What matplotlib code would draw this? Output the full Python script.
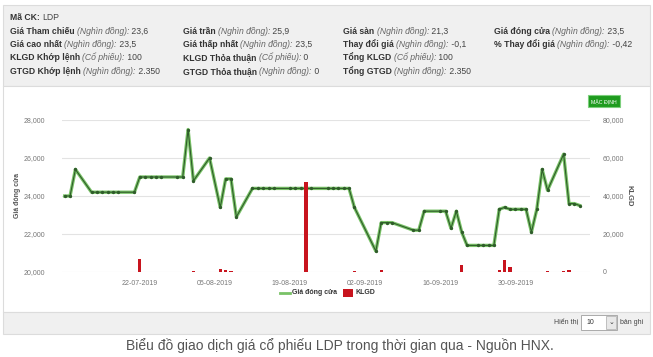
import matplotlib
matplotlib.use("Agg")
import matplotlib.pyplot as plt
import matplotlib.dates as mdates
from matplotlib.patches import Rectangle
from matplotlib import font_manager
import pandas as pd

# --- data ---
close_dates = ["2019-07-08", "2019-07-09", "2019-07-10", "2019-07-13", "2019-07-14", "2019-07-15",
               "2019-07-16", "2019-07-17", "2019-07-18", "2019-07-21", "2019-07-22", "2019-07-23",
               "2019-07-24", "2019-07-25", "2019-07-26", "2019-07-29", "2019-07-30", "2019-07-31",
               "2019-08-01", "2019-08-04", "2019-08-06", "2019-08-07", "2019-08-08", "2019-08-09",
               "2019-08-12", "2019-08-13", "2019-08-14", "2019-08-15", "2019-08-16", "2019-08-19",
               "2019-08-20", "2019-08-21", "2019-08-22", "2019-08-23", "2019-08-26", "2019-08-27",
               "2019-08-28", "2019-08-29", "2019-08-30", "2019-08-31", "2019-09-04", "2019-09-05",
               "2019-09-06", "2019-09-07", "2019-09-11", "2019-09-12", "2019-09-13", "2019-09-16",
               "2019-09-17", "2019-09-18", "2019-09-19", "2019-09-20", "2019-09-21", "2019-09-23",
               "2019-09-24", "2019-09-25", "2019-09-26", "2019-09-27", "2019-09-28", "2019-09-29",
               "2019-09-30", "2019-10-01", "2019-10-02", "2019-10-03", "2019-10-04", "2019-10-05",
               "2019-10-06", "2019-10-09", "2019-10-10", "2019-10-11", "2019-10-12"]
close_price = [24000, 24000, 25400, 24200, 24200, 24200,
               24200, 24200, 24200, 24200, 25000, 25000,
               25000, 25000, 25000, 25000, 25000, 27500,
               24800, 26000, 23400, 24900, 24900, 22900,
               24400, 24400, 24400, 24400, 24400, 24400,
               24400, 24400, 24400, 24400, 24400, 24400,
               24400, 24400, 24400, 23400, 21100, 22600,
               22600, 22600, 22200, 22200, 23200, 23200,
               23200, 22300, 23200, 22100, 21400, 21400,
               21400, 21400, 21400, 23300, 23400, 23300,
               23300, 23300, 23300, 22100, 23300, 25400,
               24300, 26200, 23600, 23600, 23500]

vol_dates = ["2019-07-22", "2019-08-01", "2019-08-06", "2019-08-07", "2019-08-08", "2019-08-22",
             "2019-08-31", "2019-09-05", "2019-09-20", "2019-09-27", "2019-09-28", "2019-09-29",
             "2019-10-06", "2019-10-09", "2019-10-10"]
volume = [6700, 400, 1500, 900, 300, 47600,
          600, 1200, 3500, 1200, 6500, 2500,
          300, 300, 1000]

price_ticks = [20000, 22000, 24000, 26000, 28000]
vol_ticks = [0, 20000, 40000, 60000, 80000]
date_ticks = ["2019-07-22", "2019-08-05", "2019-08-19", "2019-09-02", "2019-09-16", "2019-09-30"]

info_rows = [
    [[("Mã CK: ", "b"), ("LDP", "r")]],
    [[("Giá Tham chiếu ", "b"), ("(Nghìn đồng):", "i"), (" 23,6", "r")],
     [("Giá trần ", "b"), ("(Nghìn đồng):", "i"), (" 25,9", "r")],
     [("Giá sàn ", "b"), ("(Nghìn đồng):", "i"), (" 21,3", "r")],
     [("Giá đóng cửa ", "b"), ("(Nghìn đồng):", "i"), (" 23,5", "r")]],
    [[("Giá cao nhất ", "b"), ("(Nghìn đồng):", "i"), (" 23,5", "r")],
     [("Giá thấp nhất ", "b"), ("(Nghìn đồng):", "i"), (" 23,5", "r")],
     [("Thay đổi giá ", "b"), ("(Nghìn đồng):", "i"), (" -0,1", "r")],
     [("% Thay đổi giá ", "b"), ("(Nghìn đồng):", "i"), (" -0,42", "r")]],
    [[("KLGD Khớp lệnh ", "b"), ("(Cổ phiếu):", "i"), (" 100", "r")],
     [("KLGD Thỏa thuận ", "b"), ("(Cổ phiếu):", "i"), (" 0", "r")],
     [("Tổng KLGD ", "b"), ("(Cổ phiếu):", "i"), (" 100", "r")]],
    [[("GTGD Khớp lệnh ", "b"), ("(Nghìn đồng):", "i"), (" 2.350", "r")],
     [("GTGD Thỏa thuận ", "b"), ("(Nghìn đồng):", "i"), (" 0", "r")],
     [("Tổng GTGD ", "b"), ("(Nghìn đồng):", "i"), (" 2.350", "r")]],
]
caption = "Biểu đồ giao dịch giá cổ phiếu LDP trong thời gian qua - Nguồn HNX."

# --- fonts ---
have = {f.name for f in font_manager.fontManager.ttflist}
narrow = "Liberation Sans Narrow" if "Liberation Sans Narrow" in have else "Liberation Sans"
plt.rcParams["font.family"] = [narrow, "DejaVu Sans"]

W, H = 653, 357
fig = plt.figure(figsize=(W / 100, H / 100), dpi=100)
fig.patch.set_facecolor("white")


def fx(px):
    return px / W


def fy(py):
    return 1 - py / H


def panel(x0, y0, x1, y1, fc, ec):
    fig.patches.append(Rectangle((fx(x0), fy(y1)), fx(x1) - fx(x0), fy(y0) - fy(y1),
                                 transform=fig.transFigure, facecolor=fc, edgecolor=ec,
                                 linewidth=0.8, zorder=-5))


panel(3, 5, 650, 86, "#f0f0f0", "#dcdcdc")
panel(3, 86, 650, 312, "white", "#dcdcdc")
panel(3, 312, 650, 334, "#f0f0f0", "#dcdcdc")

# --- header block ---
renderer = fig.canvas.get_renderer()
col_x = [10, 183, 343, 494]
row_y = [20, 34, 47, 60, 74]
styles = {"b": dict(fontweight="bold", color="#333333"),
          "i": dict(fontstyle="italic", color="#666666"),
          "r": dict(color="#444444")}
for r, row in enumerate(info_rows):
    for c, pieces in enumerate(row):
        x = fx(col_x[c])
        for txt, st in pieces:
            t = fig.text(x, fy(row_y[r]), txt, fontsize=6.2, va="baseline", ha="left", **styles[st])
            bb = t.get_window_extent(renderer)
            x = bb.x1 / fig.bbox.width

# --- chart ---
ax = fig.add_axes([fx(62), fy(272), fx(590) - fx(62), fy(120) - fy(272)])
ax2 = ax.twinx()

cd = pd.to_datetime(close_dates)
vd = pd.to_datetime(vol_dates)

ax.plot(cd, close_price, color="#79c267", lw=2.4, solid_joinstyle="round", zorder=3)
ax.plot(cd, close_price, color="#2f5d2a", lw=0.8, marker="o", markersize=1.4, zorder=4)
ax2.bar(vd, volume, width=0.6, color="#c8141e", zorder=2)

ax.set_ylim(20000, 28000)
ax2.set_ylim(0, 80000)
ax.set_xlim(pd.Timestamp("2019-07-07 12:00"), pd.Timestamp("2019-10-13 22:00"))

ax.set_yticks(price_ticks)
ax.set_yticklabels([f"{v:,}" for v in price_ticks])
ax2.set_yticks(vol_ticks)
ax2.set_yticklabels([f"{v:,}" for v in vol_ticks])
ax.set_xticks(pd.to_datetime(date_ticks))
ax.xaxis.set_major_formatter(mdates.DateFormatter("%d-%m-%Y"))

ax.grid(axis="y", color="#e3e3e3", lw=0.8)
ax.set_axisbelow(True)
for a in (ax, ax2):
    for s in a.spines.values():
        s.set_visible(False)
ax.tick_params(axis="y", length=0, pad=12, labelsize=5, labelcolor="#777777")
ax2.tick_params(axis="y", length=0, pad=9, labelsize=5, labelcolor="#777777")
ax.tick_params(axis="x", length=0, pad=6, labelsize=5, labelcolor="#777777")

ax.set_ylabel("Giá đóng cửa", fontsize=5, fontweight="bold", color="#555555", labelpad=2)
ax2.set_ylabel("KLGD", fontsize=5.5, fontweight="bold", color="#555555", rotation=270, labelpad=6)

# legend
fig.lines.append(plt.Line2D([fx(280), fx(290)], [fy(293), fy(293)], transform=fig.transFigure,
                            color="#79c267", lw=2))
fig.text(fx(292), fy(293), "Giá đóng cửa", fontsize=5, fontweight="bold", color="#333333", va="center")
fig.patches.append(Rectangle((fx(343), fy(297)), fx(10), fy(0) - fy(8), transform=fig.transFigure,
                             facecolor="#c8141e", edgecolor="none"))
fig.text(fx(356), fy(293), "KLGD", fontsize=5, fontweight="bold", color="#333333", va="center")

# "Mặc định" button
fig.patches.append(Rectangle((fx(588), fy(107)), fx(32), fy(0) - fy(12), transform=fig.transFigure,
                             facecolor="#1e9b1e", edgecolor="#7ccf7c", linewidth=0.8))
fig.text(fx(604), fy(101), "MẶC ĐỊNH", fontsize=3.8, color="white", ha="center", va="center")

# page size selector
fig.text(fx(578), fy(323), "Hiển thị", fontsize=5, color="#444444", ha="right", va="center")
fig.patches.append(Rectangle((fx(581), fy(330)), fx(36), fy(0) - fy(15), transform=fig.transFigure,
                             facecolor="white", edgecolor="#aaaaaa", linewidth=0.7))
fig.text(fx(590), fy(323), "10", fontsize=5, color="#333333", ha="center", va="center")
fig.patches.append(Rectangle((fx(606), fy(329)), fx(10), fy(0) - fy(13), transform=fig.transFigure,
                             facecolor="#e8e8e8", edgecolor="#aaaaaa", linewidth=0.5))
fig.text(fx(611), fy(322), "⌄", fontsize=5, color="#333333", ha="center", va="center",
         family=["DejaVu Sans"])
fig.text(fx(620), fy(323), "bản ghi", fontsize=5, color="#444444", ha="left", va="center")

# caption
fig.text(fx(340), fy(350), caption, fontsize=10, color="#555555", ha="center", va="baseline")

fig.savefig("out.png", dpi=100)
